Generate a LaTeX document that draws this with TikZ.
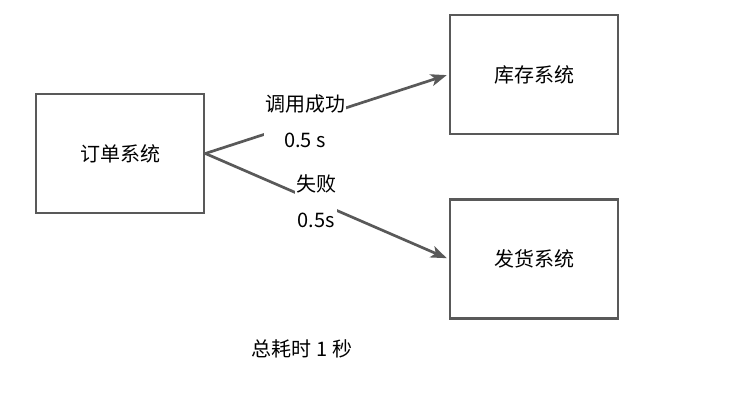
\documentclass[tikz,border=0pt]{standalone}
\usepackage{fontspec}
\setmainfont{Noto Sans CJK SC}
\usepackage{tikz}
\usetikzlibrary{arrows.meta,positioning}
\definecolor{edgegray}{HTML}{595959}

\begin{document}
\begin{tikzpicture}[
  x=1pt, y=-1pt,
  font=\fontsize{20}{36}\selectfont,
  sys/.style={draw=edgegray, line width=2.7pt, minimum width=168pt, minimum height=119pt, align=center},
  lbl/.style={fill=white, inner sep=1pt, align=center},
  arr/.style={draw=edgegray, line width=2.7pt, -{Stealth[length=16pt, width=12pt, inset=4pt]}, shorten >=2pt}
]
\useasboundingbox (0,0) rectangle (737,404);

\node[sys] (order) at (120,153.5) {订单系统};
\node[sys] (stock) at (534,74.5) {库存系统};
\node[sys] (ship) at (534,259) {发货系统};

\draw[arr] (order.east) -- node[lbl, pos=0.41] (ok) {调用成功\\0.5 s} (stock.west);
\draw[arr] (order.east) -- node[lbl, pos=0.455] (fail) {失败\\0.5s} (ship.west);

\node (total) at (302,349) {总耗时 1 秒};
\end{tikzpicture}
\end{document}
